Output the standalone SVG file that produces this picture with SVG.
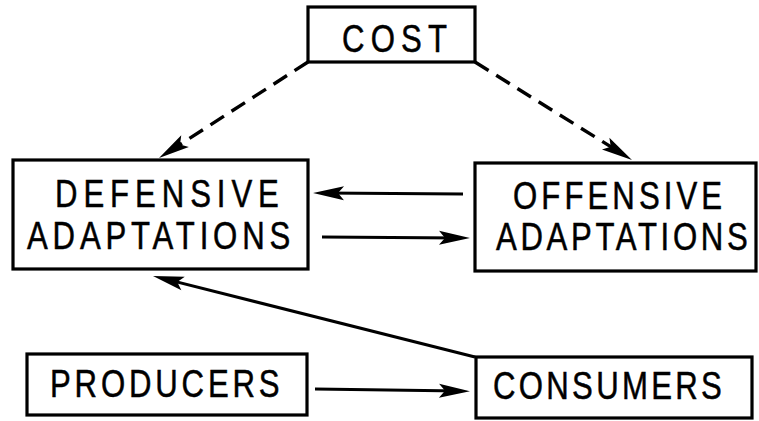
<svg xmlns="http://www.w3.org/2000/svg" width="759" height="421" viewBox="0 0 759 421">
<style>
.box{fill:#fff;stroke:#000;stroke-width:3.2}
.lbl{font-family:"Liberation Sans",Arial,sans-serif;font-size:38px;fill:#000;stroke:#000;stroke-width:0.5}
.con{stroke:#000;stroke-width:3;fill:none}
.dash{stroke-width:3.4;stroke-dasharray:16 9}
</style>
<defs>
<marker id="ah" viewBox="-24 -9 36 18" refX="0" refY="0" markerWidth="36" markerHeight="18" markerUnits="userSpaceOnUse" orient="auto">
<path d="M10,0 L-21,-7 L-15,0 L-21,7 Z" fill="#000"/>
</marker>
</defs>
<rect width="759" height="421" fill="#fff"/>
<g id="connectors">
<line class="con dash" x1="308" y1="62" x2="167.4" y2="152.6" marker-end="url(#ah)"/>
<line class="con dash" x1="475" y1="62" x2="623.5" y2="154.7" marker-end="url(#ah)"/>
<line class="con" x1="463" y1="194" x2="323" y2="193" marker-end="url(#ah)"/>
<line class="con" x1="322" y1="237" x2="460" y2="238" marker-end="url(#ah)"/>
<line class="con" x1="315" y1="389" x2="460" y2="391" marker-end="url(#ah)"/>
<line class="con" x1="475" y1="357" x2="162.7" y2="278.4" marker-end="url(#ah)"/>
</g>
<g id="cost">
<rect class="box" x="308" y="7" width="167" height="55"/>
<text class="lbl" transform="matrix(0.82,0,0,1,342,52)" textLength="128" lengthAdjust="spacing">COST</text>
</g>
<g id="defensive">
<rect class="box" x="13" y="160" width="295" height="109"/>
<text class="lbl" transform="matrix(0.82,0,0,1,55,207)" textLength="273" lengthAdjust="spacing">DEFENSIVE</text>
<text class="lbl" transform="matrix(0.82,0,0,1,27,249)" textLength="321" lengthAdjust="spacing">ADAPTATIONS</text>
</g>
<g id="offensive">
<rect class="box" x="475" y="163" width="281" height="108"/>
<text class="lbl" transform="matrix(0.82,0,0,1,513,209)" textLength="255" lengthAdjust="spacing">OFFENSIVE</text>
<text class="lbl" transform="matrix(0.82,0,0,1,496,250)" textLength="307" lengthAdjust="spacing">ADAPTATIONS</text>
</g>
<g id="producers">
<rect class="box" x="27" y="354" width="280" height="61"/>
<text class="lbl" transform="matrix(0.82,0,0,1,50,397)" textLength="280" lengthAdjust="spacing">PRODUCERS</text>
</g>
<g id="consumers">
<rect class="box" x="476" y="357" width="276" height="61"/>
<text class="lbl" transform="matrix(0.82,0,0,1,493,399)" textLength="279" lengthAdjust="spacing">CONSUMERS</text>
</g>
</svg>
